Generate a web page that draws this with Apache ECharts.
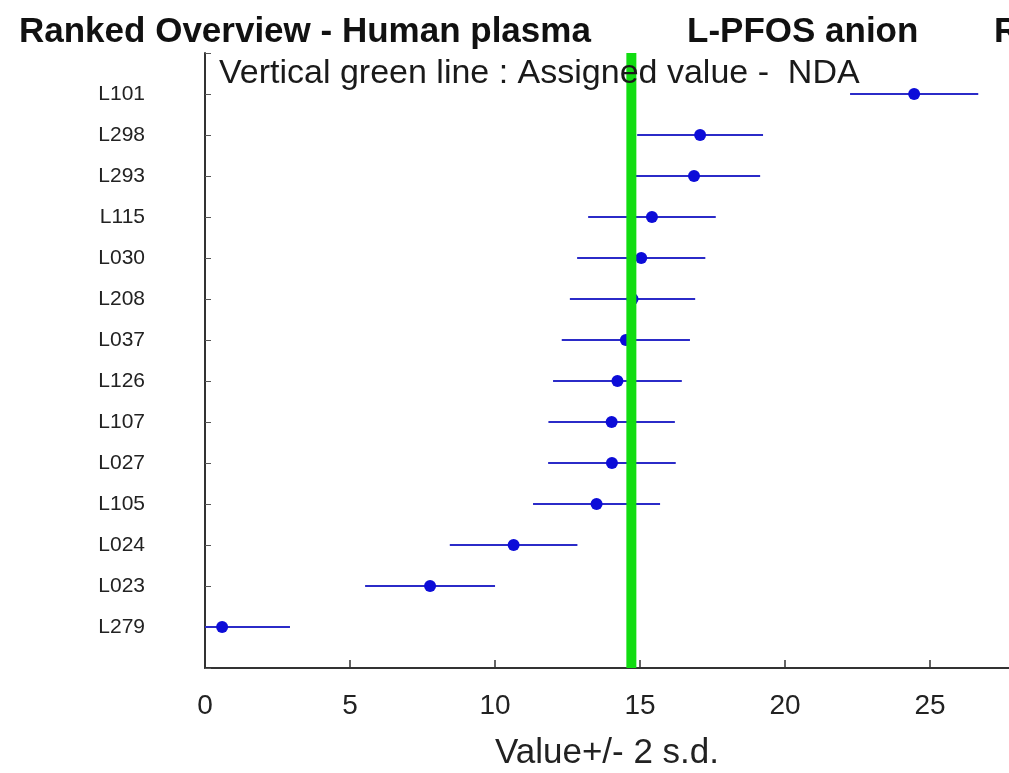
<!DOCTYPE html>
<html>
<head>
<meta charset="utf-8">
<script src="https://cdn.jsdelivr.net/npm/echarts@6/dist/echarts.min.js"></script>
<style>
html,body{margin:0;padding:0;background:#fff;}
#chart{width:1009px;height:773px;}
</style>
</head>
<body>
<div id="chart"></div>
<script>
// Labs, top to bottom (ranked)
var labs = ['L101','L298','L293','L115','L030','L208','L037','L126','L107','L027','L105','L024','L023','L279'];
// Reported values
var values = [24.45, 17.07, 16.86, 15.41, 15.04, 14.74, 14.51, 14.22, 14.02, 14.03, 13.5, 10.64, 7.76, 0.59];
// Half-width of the bar (2 s.d.)
var twoSd = [2.21, 2.17, 2.28, 2.2, 2.21, 2.16, 2.21, 2.22, 2.18, 2.2, 2.19, 2.2, 2.24, 2.34];
// Assigned value
var assigned = 14.7;
var xTicks = [0, 5, 10, 15, 20, 25];

var n = labs.length;
var pts = [], bars = [];
for (var i = 0; i < n; i++) {
  var pos = n - i;
  pts.push([values[i], pos]);
  bars.push([values[i] - twoSd[i], values[i] + twoSd[i], pos]);
}

var chart = echarts.init(document.getElementById('chart'));
var font = 'Liberation Sans, Arial, sans-serif';
chart.setOption({
  animation: false,
  backgroundColor: '#ffffff',
  title: [
    {text: 'Ranked Overview - Human plasma', left: 14, top: 10, textStyle: {fontFamily: font, fontSize: 35, fontWeight: 'bold', color: '#111'}},
    {text: 'L-PFOS anion', left: 682, top: 10, textStyle: {fontFamily: font, fontSize: 35, fontWeight: 'bold', color: '#111'}},
    {text: 'R', left: 989, top: 10, textStyle: {fontFamily: font, fontSize: 35, fontWeight: 'bold', color: '#111'}},
    {text: 'Vertical green line : Assigned value -  NDA', left: 214, top: 52, textStyle: {fontFamily: font, fontSize: 34, fontWeight: 'normal', color: '#1a1a1a'}}
  ],
  grid: {left: 205, right: 0, top: 53, bottom: 105, containLabel: false, outerBoundsMode: 'none'},
  xAxis: {
    type: 'value', min: 0, max: 27.72, interval: 5,
    name: 'Value+/- 2 s.d.', nameLocation: 'middle', nameGap: 68,
    nameTextStyle: {fontFamily: font, fontSize: 35, color: '#222'},
    axisLine: {show: true, lineStyle: {color: '#333', width: 2}},
    axisTick: {show: true, inside: true, length: 8, lineStyle: {color: '#333', width: 1.5}},
    axisLabel: {fontFamily: font, fontSize: 28, color: '#222', margin: 24, showMaxLabel: false,
      formatter: function (v) { return xTicks.indexOf(v) >= 0 ? String(v) : ''; }},
    splitLine: {show: false}
  },
  yAxis: {
    type: 'value', min: 0, max: n + 1, interval: 1,
    axisLine: {show: true, lineStyle: {color: '#333', width: 2}},
    axisTick: {show: true, inside: true, length: 6, lineStyle: {color: '#555', width: 1}},
    axisLabel: {fontFamily: font, fontSize: 21, color: '#222', margin: 60,
      formatter: function (v) { var k = n - v; return (k >= 0 && k < n) ? labs[k] : ''; }},
    splitLine: {show: false}
  },
  series: [
    {
      type: 'custom', clip: true, z: 2,
      renderItem: function (params, api) {
        var a = api.coord([api.value(0), api.value(2)]);
        var b = api.coord([api.value(1), api.value(2)]);
        return {type: 'line', shape: {x1: a[0], y1: a[1], x2: b[0], y2: b[1]},
          style: {stroke: '#2b2bc8', lineWidth: 2}};
      },
      encode: {x: [0, 1], y: 2},
      data: bars
    },
    {
      type: 'scatter', z: 3, symbol: 'circle', symbolSize: 12,
      itemStyle: {color: '#0c0cd8', opacity: 1},
      data: pts
    },
    {
      type: 'line', z: 5, symbol: 'none', silent: true,
      lineStyle: {color: '#11dd11', width: 10},
      data: [[assigned, 0], [assigned, n + 1]]
    }
  ]
});
</script>
</body>
</html>
